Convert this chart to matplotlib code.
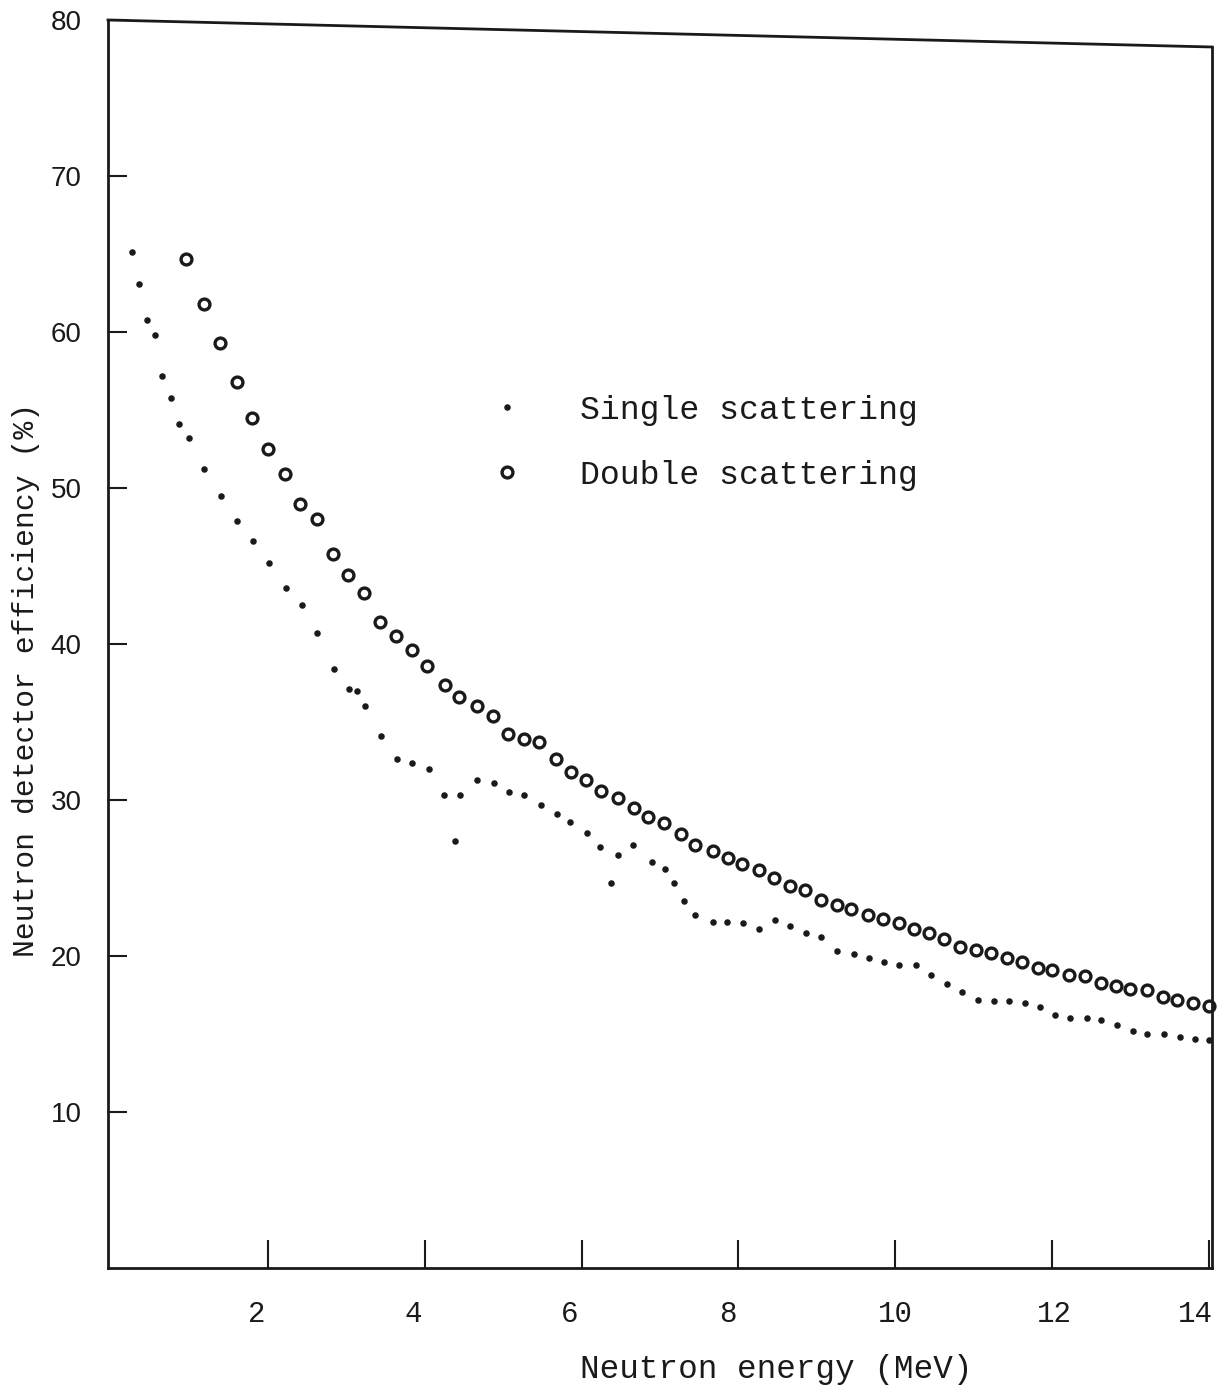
import matplotlib
matplotlib.use("Agg")
import matplotlib.pyplot as plt
from matplotlib.lines import Line2D
from matplotlib.transforms import ScaledTranslation

# Data
x_single = [0.26, 0.36, 0.46, 0.56, 0.65, 0.76, 0.86, 0.99, 1.18, 1.40,
            1.60, 1.81, 2.01, 2.23, 2.43, 2.62, 2.84, 3.03, 3.13, 3.24,
            3.44, 3.64, 3.84, 4.05, 4.25, 4.39, 4.45, 4.66, 4.88, 5.07,
            5.27, 5.48, 5.68, 5.85, 6.07, 6.24, 6.38, 6.47, 6.66, 6.90,
            7.06, 7.18, 7.30, 7.44, 7.67, 7.86, 8.06, 8.26, 8.47, 8.66,
            8.86, 9.05, 9.26, 9.47, 9.66, 9.86, 10.05, 10.26, 10.46, 10.66,
            10.85, 11.05, 11.26, 11.45, 11.65, 11.84, 12.04, 12.23, 12.44, 12.63,
            12.83, 13.03, 13.21, 13.43, 13.63, 13.82, 14.0]
y_single = [65.1, 63.1, 60.8, 59.8, 57.2, 55.8, 54.1, 53.2, 51.2, 49.5,
            47.9, 46.6, 45.2, 43.6, 42.5, 40.7, 38.4, 37.1, 37.0, 36.0,
            34.1, 32.6, 32.4, 32.0, 30.3, 27.4, 30.3, 31.3, 31.1, 30.5,
            30.3, 29.7, 29.1, 28.6, 27.9, 27.0, 24.7, 26.5, 27.1, 26.0,
            25.6, 24.7, 23.5, 22.6, 22.2, 22.2, 22.1, 21.7, 22.3, 21.9,
            21.5, 21.2, 20.3, 20.1, 19.9, 19.6, 19.4, 19.4, 18.8, 18.2,
            17.7, 17.2, 17.1, 17.1, 17.0, 16.7, 16.2, 16.0, 16.0, 15.9,
            15.6, 15.2, 15.0, 15.0, 14.8, 14.7, 14.6]

x_double = [0.96, 1.18, 1.39, 1.60, 1.80, 2.00, 2.22, 2.41, 2.63, 2.83,
            3.02, 3.23, 3.43, 3.63, 3.84, 4.03, 4.26, 4.44, 4.66, 4.87,
            5.06, 5.26, 5.46, 5.67, 5.86, 6.05, 6.25, 6.46, 6.67, 6.85,
            7.05, 7.27, 7.45, 7.67, 7.87, 8.04, 8.26, 8.46, 8.66, 8.85,
            9.05, 9.26, 9.43, 9.65, 9.85, 10.05, 10.24, 10.43, 10.62, 10.83,
            11.03, 11.22, 11.42, 11.62, 11.82, 12.0, 12.22, 12.42, 12.63, 12.81,
            13.0, 13.21, 13.41, 13.59, 13.80, 14.0]
y_double = [64.7, 61.8, 59.3, 56.8, 54.5, 52.5, 50.9, 49.0, 48.0, 45.8,
            44.4, 43.3, 41.4, 40.5, 39.6, 38.6, 37.4, 36.6, 36.0, 35.4,
            34.2, 33.9, 33.7, 32.6, 31.8, 31.3, 30.6, 30.1, 29.5, 28.9,
            28.5, 27.8, 27.1, 26.7, 26.3, 25.9, 25.5, 25.0, 24.5, 24.2,
            23.6, 23.3, 23.0, 22.6, 22.4, 22.1, 21.7, 21.5, 21.1, 20.6,
            20.4, 20.2, 19.9, 19.6, 19.2, 19.1, 18.8, 18.7, 18.3, 18.1,
            17.9, 17.8, 17.4, 17.2, 17.0, 16.8]

x_ticks = [2, 4, 6, 8, 10, 12, 14]
y_ticks = [10, 20, 30, 40, 50, 60, 70, 80]
series_labels = ["Single scattering", "Double scattering"]
x_label = "Neutron energy (MeV)"
y_label = "Neutron detector efficiency (%)"

INK = "#1a1a1a"
MONO = "Liberation Mono"

fig = plt.figure(figsize=(12.2, 13.9), dpi=100)
ax = fig.add_axes([108 / 1220, 1 - 1268 / 1390, (1212 - 108) / 1220, (1268 - 20) / 1390])

ax.plot(x_single, y_single, linestyle="none", marker="o", markersize=4.7,
        color=INK, markeredgewidth=0, clip_on=False, label=series_labels[0])
ax.plot(x_double, y_double, linestyle="none", marker="o", markersize=7.8,
        markerfacecolor="white", markeredgecolor=INK, markeredgewidth=2.4,
        clip_on=False, label=series_labels[1])

ax.set_xlim(-0.04, 14.04)
ax.set_ylim(0, 80)
ax.set_xticks(x_ticks)
ax.set_yticks(y_ticks)
ax.set_xticklabels([str(t) for t in x_ticks], fontfamily=MONO, fontsize=21, color=INK)
ax.set_yticklabels([str(t) for t in y_ticks], fontfamily="Liberation Sans", fontsize=20, color=INK)
ax.tick_params(axis="x", direction="in", length=20, width=1.5, pad=23, colors=INK)
ax.tick_params(axis="y", direction="in", length=14, width=1.5, pad=19, colors=INK)

# the typed tick labels sit slightly left of their ticks in the original
label_shift_px = [-11, -12, -12, -11, 0, 2, -13]
for lab, dx in zip(ax.get_xticklabels(), label_shift_px):
    lab.set_transform(lab.get_transform() + ScaledTranslation(dx / 100, 0, fig.dpi_scale_trans))

for side in ["left", "bottom", "right"]:
    ax.spines[side].set_linewidth(2.0)
    ax.spines[side].set_color(INK)
ax.spines["top"].set_visible(False)
# slightly slanted top border as in the scanned original
ax.add_line(Line2D([0, 1], [1, 1 - 27 / 1248], transform=ax.transAxes,
                   color=INK, linewidth=2.0, clip_on=False))
ax.spines["right"].set_bounds(0, 80 * (1 - 27 / 1248))

ax.set_xlabel(x_label, fontfamily=MONO, fontsize=23.5, color=INK)
ax.xaxis.set_label_coords((776 - 108) / 1104, (1268 - 1354) / 1248)
ax.set_ylabel(y_label, fontfamily=MONO, fontsize=21.4, color=INK)
ax.yaxis.set_label_coords((40 - 108) / 1104, (1268 - 680) / 1248)

leg = ax.legend(loc="upper left", bbox_to_anchor=((490 - 108) / 1104, (1268 - 395) / 1248),
                frameon=False, handlelength=1.0, handletextpad=1.7, labelspacing=1.02,
                borderpad=0, borderaxespad=0, prop={"family": MONO, "size": 23.9})
for t in leg.get_texts():
    t.set_color(INK)

fig.savefig("out.png", dpi=100, facecolor="white")
